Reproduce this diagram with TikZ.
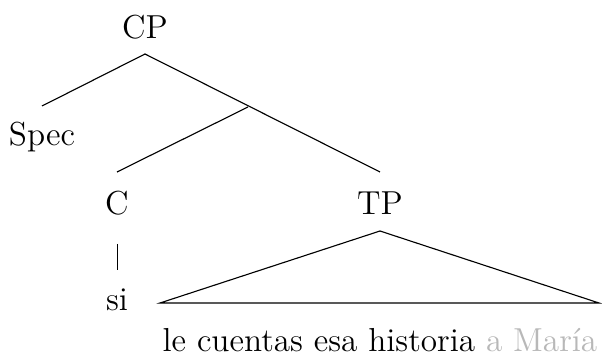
\documentclass[tikz,border=0pt]{standalone}
\usepackage{xcolor}
\definecolor{fadedgray}{gray}{0.72}
\begin{document}
\begin{tikzpicture}[x=0.4pt,y=-0.4pt,
  lbl/.style={inner sep=0pt,font=\fontsize{13.3}{16}\selectfont},
  branch/.style={line width=0.45pt}]
\useasboundingbox (0,0) rectangle (602,359);
\node[lbl] (cp) at (145,27) {CP};
\coordinate (cpb) at (145,54);
\coordinate (specT) at (42,106);
\node[lbl] (spec) at (42,137) {Spec};
\coordinate (cbar) at (248,107);
\coordinate (cT) at (117,172);
\coordinate (tpT) at (380,172);
\node[lbl] (c) at (117,203) {C};
\node[lbl] (tp) at (380,203) {TP};
\coordinate (cB) at (117.5,244);
\coordinate (siT) at (117.5,270);
\node[lbl] (si) at (117,300) {si};
\coordinate (triA) at (380,231);
\coordinate (triL) at (160,303);
\coordinate (triR) at (599,303);
\node[lbl] (yield) at (380,340) {le cuentas esa historia \textcolor{fadedgray}{a María}};
\draw[branch] (specT) -- (cpb) -- (tpT);
\draw[branch] (cbar) -- (cT);
\draw[branch] (cB) -- (siT);
\draw[branch] (triA) -- (triL) -- (triR) -- cycle;
\end{tikzpicture}
\end{document}
